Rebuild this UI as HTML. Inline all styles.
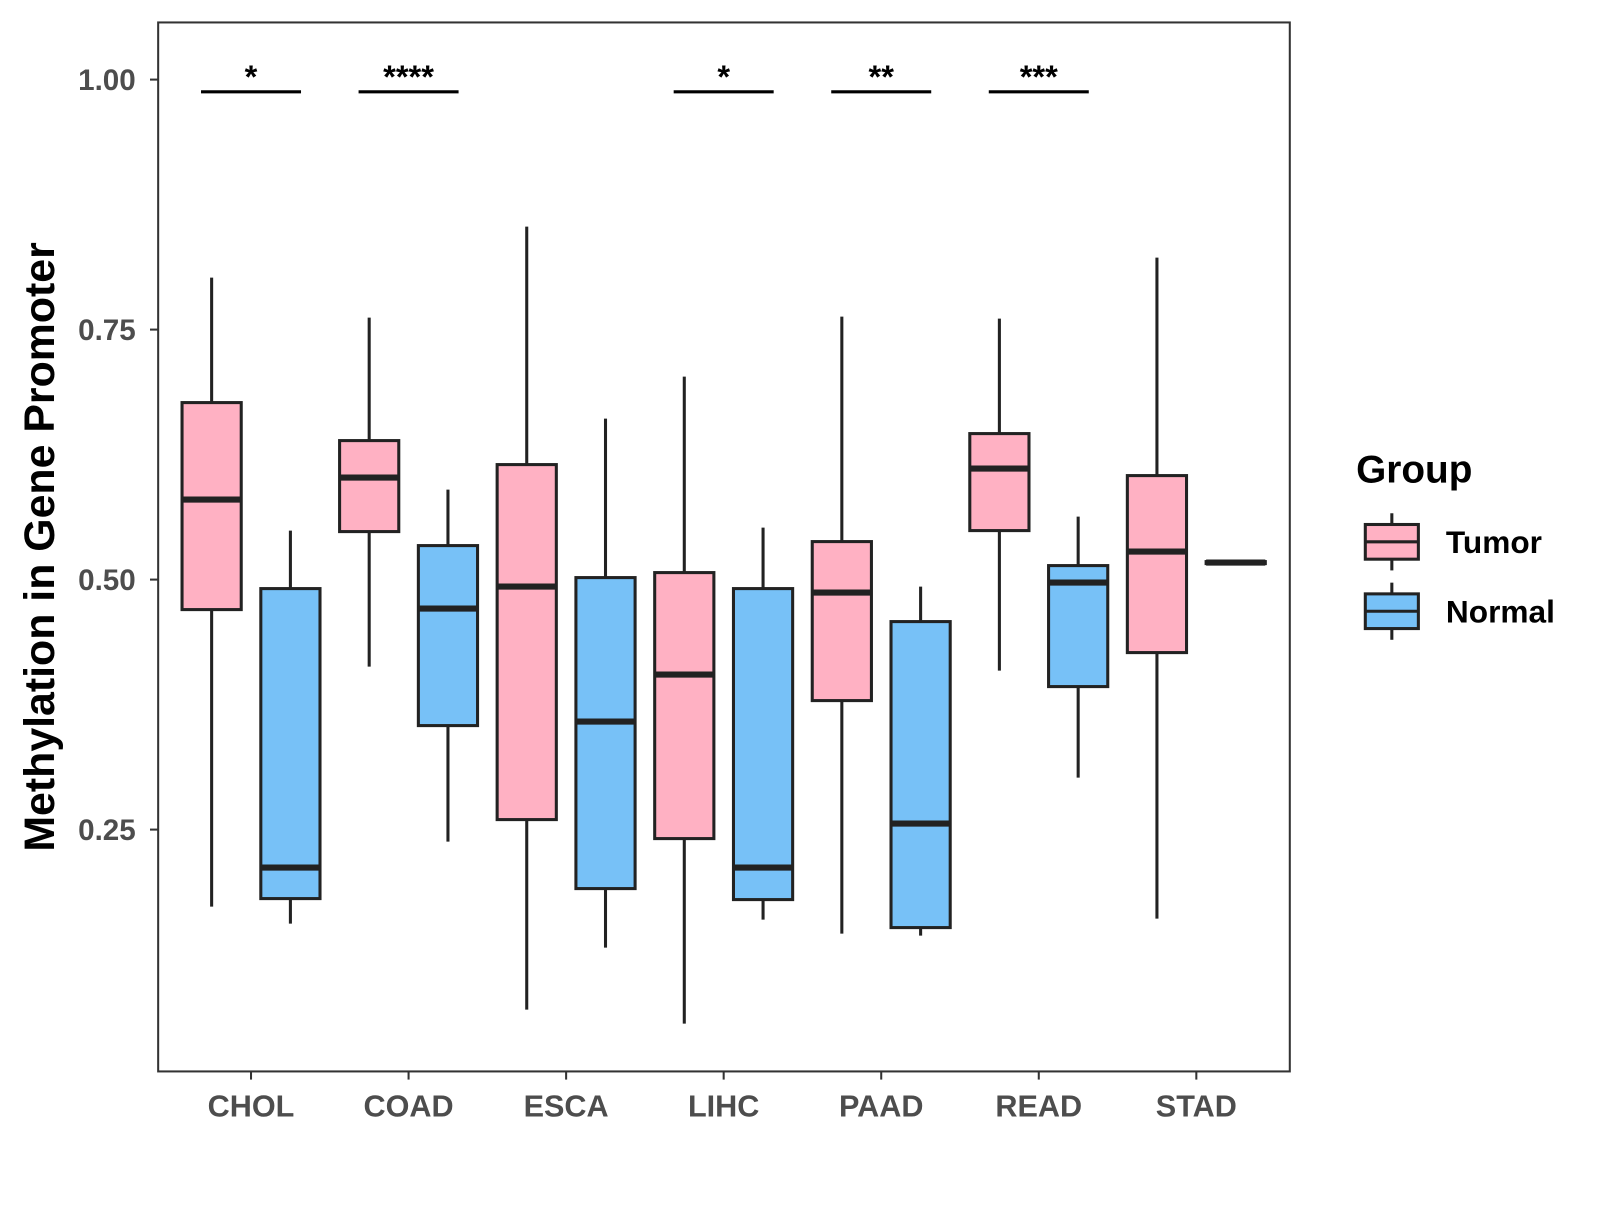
<!DOCTYPE html>
<html><head><meta charset="utf-8"><style>
body{margin:0;background:#fff;}
svg text{font-family:"Liberation Sans",Arial,sans-serif;}
</style></head><body>
<svg id="chart" width="1600" height="1200" viewBox="0 0 1568 1176" xmlns="http://www.w3.org/2000/svg">
<rect x="0" y="0" width="1568" height="1176" fill="#fff"/>
<g id="plot"></g>
</svg>
<script>
const categories=["CHOL","COAD","ESCA","LIHC","PAAD","READ","STAD"];
// [low, q1, median, q3, high]
const tumorStats=[[0.173,0.470,0.580,0.677,0.802],[0.413,0.548,0.602,0.639,0.762],[0.070,0.260,0.493,0.615,0.853],[0.056,0.241,0.405,0.507,0.703],[0.146,0.379,0.487,0.538,0.763],[0.409,0.549,0.611,0.646,0.761],[0.161,0.427,0.528,0.604,0.822]];
const normalStats=[[0.156,0.181,0.212,0.491,0.549],[0.238,0.354,0.471,0.534,0.590],[0.132,0.191,0.358,0.502,0.661],[0.160,0.180,0.212,0.491,0.552],[0.144,0.152,0.256,0.458,0.493],[0.302,0.393,0.497,0.514,0.563],[0.515,0.516,0.517,0.518,0.519]];
const sigLabels=["*","****","","*","**","***",""];
const yTicks=[0.25,0.5,0.75,1.0];
const yTickLabels=["0.25","0.50","0.75","1.00"];
const NS="http://www.w3.org/2000/svg";
const g=document.getElementById('plot');
const y=v=>78+(1-v)*980;
const x=i=>246+i*154.4;
function el(t,a,p){const e=document.createElementNS(NS,t);for(const k in a)e.setAttribute(k,a[k]);(p||g).appendChild(e);return e;}
const panel=el('rect',{x:155,y:22,width:1109,height:1028,fill:'none',stroke:'#333','stroke-width':2});


yTicks.forEach((v,i)=>{
  const tk=el('line',{x1:147,x2:155,y1:y(v),y2:y(v),stroke:'#333','stroke-width':2});
  
  
  const t=el('text',{x:133,y:y(v)+10,'text-anchor':'end','font-size':29,'font-weight':'bold',fill:'#4d4d4d'});
  t.textContent=yTickLabels[i];
  
  
});
categories.forEach((c,i)=>{
  const tk=el('line',{x1:x(i),x2:x(i),y1:1050,y2:1058,stroke:'#333','stroke-width':2});
  
  
  const t=el('text',{x:x(i),y:1094,'text-anchor':'middle','font-size':30,'font-weight':'bold',fill:'#4d4d4d'});
  t.textContent=c;
  
  
  [[tumorStats[i],-38.6,'#FFB1C3','tumor'],[normalStats[i],38.6,'#77C1F7','normal']].forEach(([s,off,col,nm])=>{
    const cx=x(i)+off,w=58;
    const grp=el('g',{});
    
    
    el('line',{x1:cx,x2:cx,y1:y(s[4]),y2:y(s[0]),stroke:'#222','stroke-width':3},grp);
    el('rect',{x:cx-w/2,y:y(s[3]),width:w,height:Math.max(y(s[1])-y(s[3]),1),fill:col,stroke:'#222','stroke-width':3},grp);
    el('line',{x1:cx-w/2,x2:cx+w/2,y1:y(s[2]),y2:y(s[2]),stroke:'#222','stroke-width':6},grp);
  });
  if(sigLabels[i]){
    const b=el('line',{x1:x(i)-49,x2:x(i)+49,y1:90,y2:90,stroke:'#000','stroke-width':3});
    
    
    const st=el('text',{x:x(i),y:86,'text-anchor':'middle','font-size':32,'font-weight':'bold',fill:'#000'});
    st.textContent=sigLabels[i];
    
    
  }
});
const yt=el('text',{x:0,y:0,transform:'translate(53,536) rotate(-90)','text-anchor':'middle','font-size':42,'font-weight':'bold',fill:'#000'});
yt.textContent='Methylation in Gene Promoter';


const lt=el('text',{x:1329,y:473,'font-size':38,'font-weight':'bold',fill:'#000'});
lt.textContent='Group';


[['Tumor','#FFB1C3',531],['Normal','#77C1F7',599]].forEach(([n,col,cy])=>{
  const lg=el('g',{});
  
  
  el('line',{x1:1364,x2:1364,y1:cy-28,y2:cy+28,stroke:'#222','stroke-width':3},lg);
  el('rect',{x:1338,y:cy-17,width:52,height:34,fill:col,stroke:'#222','stroke-width':3},lg);
  el('line',{x1:1338,x2:1390,y1:cy,y2:cy,stroke:'#222','stroke-width':3},lg);
  const t=el('text',{x:1417,y:cy+11,'font-size':31,'font-weight':'bold',fill:'#000'},lg);
  t.textContent=n;
});
</script>
</body></html>
